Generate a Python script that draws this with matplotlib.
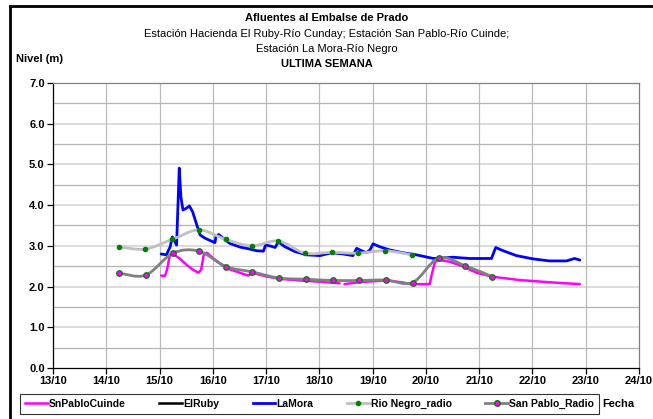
import matplotlib
matplotlib.use("Agg")
import matplotlib.pyplot as plt
import numpy as np
from matplotlib.path import Path
from matplotlib.patches import PathPatch
from matplotlib.lines import Line2D

plt.rcParams['font.family'] = ['Liberation Sans', 'DejaVu Sans']

# ---- data (x = day of October, fractional) ----
lamora_x = [15.03, 15.13, 15.20, 15.24, 15.27, 15.32, 15.37, 15.40, 15.44, 15.50, 15.56, 15.62,
            15.70, 15.76, 15.85, 15.95, 16.04, 16.06, 16.11, 16.19, 16.32, 16.51, 16.70, 16.82,
            16.95, 16.99, 17.07, 17.17, 17.23, 17.35, 17.54, 17.76, 18.01, 18.23, 18.45, 18.63,
            18.70, 18.76, 18.88, 18.95, 19.01, 19.13, 19.32, 19.57, 19.82, 20.14, 20.51, 20.82,
            21.23, 21.31, 21.45, 21.70, 22.01, 22.32, 22.64, 22.79, 22.89]
lamora_y = [2.80, 2.78, 2.98, 3.22, 3.15, 3.02, 4.91, 4.21, 3.88, 3.92, 3.98, 3.84,
            3.51, 3.27, 3.19, 3.13, 3.08, 3.23, 3.28, 3.19, 3.06, 2.97, 2.92, 2.88,
            2.87, 3.02, 3.00, 2.96, 3.10, 2.98, 2.86, 2.78, 2.76, 2.83, 2.80, 2.76,
            2.94, 2.90, 2.83, 2.90, 3.05, 2.98, 2.90, 2.83, 2.78, 2.69, 2.72, 2.69,
            2.69, 2.96, 2.88, 2.76, 2.68, 2.63, 2.63, 2.69, 2.65]

snpablo_x = [15.03, 15.10, 15.14, 15.19, 15.25, 15.38, 15.51, 15.63, 15.73, 15.78, 15.83, 15.89,
             16.01, 16.13, 16.26, 16.44, 16.66, 16.76, 17.00, 17.26, 17.63, 18.01, 18.38, 18.42,
             18.47, 18.76, 19.26, 19.57, 19.70, 20.07, 20.10, 20.17, 20.26, 20.45, 20.70, 20.95,
             21.26, 21.76, 22.38, 22.89]
snpablo_y = [2.27, 2.26, 2.41, 2.75, 2.80, 2.69, 2.53, 2.41, 2.34, 2.41, 2.78, 2.83,
             2.69, 2.57, 2.45, 2.37, 2.27, 2.33, 2.25, 2.19, 2.15, 2.12, 2.08, np.nan,
             2.06, 2.11, 2.15, 2.10, 2.06, 2.06, 2.24, 2.61, 2.65, 2.61, 2.49, 2.34,
             2.24, 2.16, 2.10, 2.06]

elruby_x = []
elruby_y = []

rionegro_x = [14.23, 14.73, 15.24, 15.74, 16.24, 16.73, 17.23, 17.73, 18.23, 18.73, 19.23, 19.73]
rionegro_y = [2.98, 2.92, 3.16, 3.39, 3.16, 3.00, 3.12, 2.82, 2.84, 2.82, 2.88, 2.78]

sanpablo_x = [14.24, 14.74, 15.25, 15.74, 16.25, 16.74, 17.24, 17.74, 18.25, 18.75, 19.25,
              19.75, 20.24, 20.74, 21.25]
sanpablo_y = [2.33, 2.28, 2.82, 2.87, 2.49, 2.36, 2.21, 2.18, 2.15, 2.15, 2.16,
              2.10, 2.70, 2.51, 2.24]

day_ticks = list(range(13, 25))
day_labels = [f"{d}/10" for d in day_ticks]

titles = ["Afluentes al Embalse de Prado",
          "Estación Hacienda El Ruby-Río Cunday; Estación San Pablo-Río Cuinde;",
          "Estación La Mora-Río Negro",
          "ULTIMA SEMANA"]


def smooth_path(xs, ys):
    pts = np.column_stack([xs, ys])
    verts = [pts[0]]
    codes = [Path.MOVETO]
    n = len(pts)
    for i in range(n - 1):
        p0 = pts[i - 1] if i > 0 else pts[i]
        p1 = pts[i]
        p2 = pts[i + 1]
        p3 = pts[i + 2] if i + 2 < n else pts[i + 1]
        c1 = p1 + (p2 - p0) / 6.0
        c2 = p2 - (p3 - p1) / 6.0
        verts += [c1, c2, p2]
        codes += [Path.CURVE4] * 3
    return Path(verts, codes)


fig = plt.figure(figsize=(6.53, 4.19), dpi=100)
ax = fig.add_axes([53 / 653, 1 - 368 / 419, (639 - 53) / 653, (368 - 83) / 419])

ax.set_xlim(13, 24)
ax.set_ylim(0, 7)

# grid
for y in np.arange(0.5, 7.0, 1.0):
    ax.axhline(y, color='#b4b4b4', lw=0.9, zorder=0)
for y in np.arange(1.0, 7.0, 1.0):
    ax.axhline(y, color='#dcdcdc', lw=1.4, zorder=0)
for d in day_ticks[1:-1]:
    ax.axvline(d, color='#bcbcbc', lw=0.9, zorder=0)

c_mag = '#ff00ff'
c_blue = '#0000ff'
c_light = '#c0c0c0'
c_gray = '#808080'
c_green = '#008000'

ax.plot(snpablo_x, snpablo_y, color=c_mag, lw=1.8, zorder=2, solid_capstyle='round')
ax.plot(elruby_x, elruby_y, color='black', lw=1.8, zorder=2)
ax.plot(lamora_x, lamora_y, color=c_blue, lw=2.0, zorder=2, solid_capstyle='round')

ax.add_patch(PathPatch(smooth_path(rionegro_x, rionegro_y), facecolor='none',
                       edgecolor=c_light, lw=2.0, zorder=3))
ax.plot(rionegro_x, rionegro_y, ls='none', marker='o', ms=3, mfc=c_green, mec=c_green, zorder=4)
ax.add_patch(PathPatch(smooth_path(sanpablo_x, sanpablo_y), facecolor='none',
                       edgecolor=c_gray, lw=2.0, zorder=5))
ax.plot(sanpablo_x, sanpablo_y, ls='none', marker='o', ms=4, mfc=c_mag, mec=c_green,
        mew=0.9, zorder=6)

# axes styling
ax.set_xticks(day_ticks)
ax.set_xticklabels(day_labels, fontsize=8, fontweight='bold')
ax.set_yticks(np.arange(0, 7.5, 1.0))
ax.set_yticklabels([f"{v:.1f}" for v in np.arange(0, 7.5, 1.0)], fontsize=8, fontweight='bold')
ax.tick_params(axis='both', direction='out', length=4, width=0.9, pad=2)
ax.spines['left'].set_color('black')
ax.spines['bottom'].set_color('black')
ax.spines['top'].set_color('#808080')
ax.spines['right'].set_color('#808080')
for s in ax.spines.values():
    s.set_linewidth(0.9)

# titles
fig.text(0.5, 1 - 18 / 419, titles[0], ha='center', va='center', fontsize=8, fontweight='bold')
fig.text(0.5, 1 - 34 / 419, titles[1], ha='center', va='center', fontsize=8)
fig.text(0.5, 1 - 49 / 419, titles[2], ha='center', va='center', fontsize=8)
fig.text(0.5, 1 - 64 / 419, titles[3], ha='center', va='center', fontsize=8, fontweight='bold')
fig.text(16 / 653, 1 - 59 / 419, "Nivel (m)", ha='left', va='center', fontsize=8, fontweight='bold')
fig.text(602 / 653, 1 - 404 / 419, "Fecha", ha='left', va='center', fontsize=8, fontweight='bold')

# legend
handles = [Line2D([], [], color=c_mag, lw=1.8),
           Line2D([], [], color='black', lw=1.8),
           Line2D([], [], color=c_blue, lw=2.0),
           Line2D([], [], color=c_light, lw=2.0, marker='o', ms=3, mfc=c_green, mec=c_green),
           Line2D([], [], color=c_gray, lw=2.0, marker='o', ms=4, mfc=c_mag, mec=c_green)]
labels = ["SnPabloCuinde", "ElRuby", "LaMora", "Rio Negro_radio", "San Pablo_Radio"]
leg = fig.legend(handles, labels, loc='center', ncol=5, numpoints=1,
                 bbox_to_anchor=((22 + 597) / 2 / 653, 1 - 404 / 419),
                 prop={'size': 7.5, 'weight': 'bold'}, frameon=True, fancybox=False,
                 handlelength=2.2, handletextpad=0.1, columnspacing=3.2,
                 borderpad=0.5)
leg.get_frame().set_edgecolor('black')
leg.get_frame().set_linewidth(0.8)

# outer frame (left and top)
fig.add_artist(Line2D([10 / 653, 10 / 653], [0, 1 - 6 / 419], transform=fig.transFigure,
                      color='black', lw=2))
fig.add_artist(Line2D([10 / 653, 1], [1 - 6 / 419, 1 - 6 / 419], transform=fig.transFigure,
                      color='black', lw=2))

fig.savefig("out.png", dpi=100)
